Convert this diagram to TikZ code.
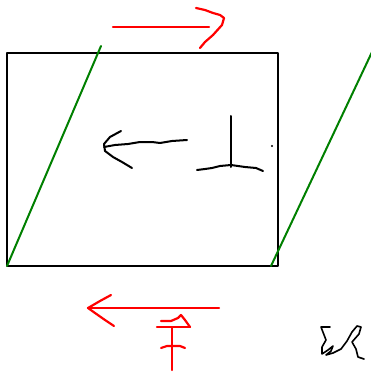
\documentclass[tikz,border=0pt]{standalone}
\usepackage{tikz}

\begin{document}
\begin{tikzpicture}[x=1pt,y=-1pt,
  ink/.style={black,line width=2pt,line cap=round,line join=round},
  pen/.style={red,line width=2.2pt,line cap=round,line join=round},
  slant/.style={green!50!black,line width=2pt,line cap=round}]
\useasboundingbox[fill=white] (0,0) rectangle (370,377);
\draw[ink] (7,53) rectangle (278,266);
\draw[slant] (7,266) -- (101,46);
\draw[slant] (271,266) -- (372,52);
% top red arrow
\draw[pen] (113,27) -- (209,27);
\draw[pen] (196,8) -- (205,10) -- (213,13) -- (220,15) -- (224,18) -- (222,25) -- (213,35) -- (205,42) -- (200,48);
% middle black arrow
\draw[ink] (104,147) -- (115,145) -- (128,144) -- (140,142) -- (152,142) -- (160,143) -- (172,141) -- (187,140);
\draw[ink] (121,131) -- (110,137) -- (104,144) -- (105,151) -- (113,157) -- (122,162) -- (132,168);
% perpendicular sign
\draw[ink] (231,116) -- (231,167);
\draw[ink] (197,170) -- (205,169) -- (212,168) -- (220,166) -- (231,165) -- (245,167) -- (256,168) -- (263,171);
\fill (272,146) circle (1.2pt);
% bottom red arrow
\draw[pen] (219,308) -- (88,308);
\draw[pen] (111,295) -- (100,301) -- (88,308) -- (95,313) -- (105,320) -- (114,326);
% red glyph
\draw[pen] (157,327) -- (190,327);
\draw[pen] (161,321) -- (171,321) -- (178,318) -- (181,315) -- (185,320) -- (190,327);
\draw[pen] (161,348) -- (167,346) -- (180,346) -- (185,348);
\draw[pen] (172,328) -- (172,370);
% signature
\draw[ink,line width=1.6pt] (330,327) -- (321,327) -- (326,340) -- (322,347) -- (322,354) -- (328,350) -- (333,346) -- (331,351) -- (326,355) -- (333,353) -- (341,349) -- (347,341) -- (352,332) -- (357,326) -- (361,327) -- (359,334) -- (352,342) -- (356,349) -- (358,357) -- (364,359);
\end{tikzpicture}
\end{document}
